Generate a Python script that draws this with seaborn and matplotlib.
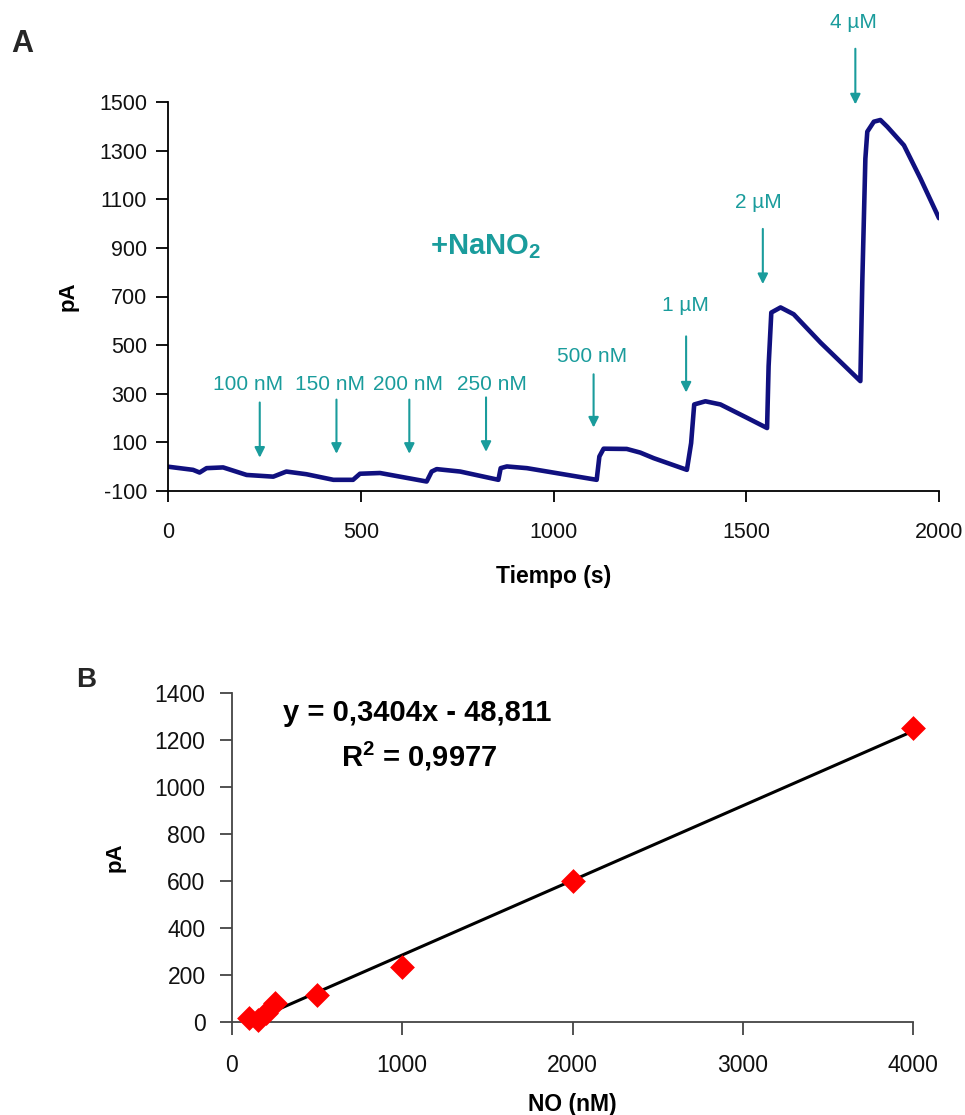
import numpy as np
import pandas as pd
import matplotlib
matplotlib.use("Agg")
import matplotlib.pyplot as plt
import seaborn as sns

# ---------------- data: panel A (amperometric trace) ----------------
time_s = [0, 65, 82, 100, 143, 204, 273, 307, 359, 429, 480, 498, 550, 671, 684,
          697, 758, 857, 863, 879, 931, 1112, 1119, 1130, 1190, 1225, 1260, 1346,
          1357, 1365, 1394, 1433, 1502, 1554, 1558, 1565, 1589, 1623, 1693, 1796,
          1801, 1809, 1814, 1831, 1848, 1866, 1909, 1952, 2000]
current_pA = [0, -13, -24, -6, -3, -34, -41, -20, -31, -54, -54, -29, -26, -61, -20,
              -10, -20, -54, -6, 1, -6, -54, 42, 74, 73, 58, 35, -13,
              97, 256, 269, 256, 201, 159, 414, 634, 655, 627, 510, 352,
              758, 1267, 1378, 1419, 1426, 1398, 1322, 1185, 1022]

# additions (arrows + labels)
add_labels = ["100 nM", "150 nM", "200 nM", "250 nM", "500 nM", "1 µM", "2 µM", "4 µM"]
add_time = [238, 437, 626, 825, 1104, 1344, 1543, 1783]
arrow_top = [264, 276, 276, 285, 380, 536, 978, 1719]
arrow_tip = [37, 53, 53, 61, 161, 305, 751, 1490]
label_time = [208, 420, 623, 840, 1100, 1342, 1532, 1779]
label_val = [338, 338, 338, 338, 455, 662, 1086, 1825]

# ---------------- data: panel B (calibration) ----------------
no_nM = [100, 150, 200, 250, 500, 1000, 2000, 4000]
pA_B = [17, 10, 38, 80, 116, 232, 600, 1251]
eq_text = "y = 0,3404x - 48,811"
r2_text = r"R$^\mathbf{2}$ = 0,9977"

yticks_A = list(range(-100, 1501, 200))
xticks_A = [0, 500, 1000, 1500, 2000]
yticks_B = list(range(0, 1401, 200))
xticks_B = [0, 1000, 2000, 3000, 4000]

# ---------------- style ----------------
sns.set_style("ticks")
plt.rcParams['font.family'] = ['Liberation Sans', 'DejaVu Sans']
plt.rcParams['mathtext.fontset'] = 'custom'
plt.rcParams['mathtext.rm'] = 'Liberation Sans'
plt.rcParams['mathtext.bf'] = 'Liberation Sans:bold'

navy = "#10107f"
teal = "#1a9c9c"
W, H = 965, 1115

fig = plt.figure(figsize=(W / 100, H / 100), dpi=100)
fig.patch.set_facecolor("white")

# ---------------- Panel A ----------------
axA = fig.add_axes([168 / W, 1 - 491 / H, (939 - 168) / W, (491 - 102) / H])
dfA = pd.DataFrame({"t": time_s, "pA": current_pA})
sns.lineplot(data=dfA, x="t", y="pA", ax=axA, color=navy, lw=3.3,
             estimator=None, sort=False)
axA.set_xlim(0, 2000)
axA.set_ylim(-100, 1500)
axA.set_xticks(xticks_A)
axA.set_yticks(yticks_A)
axA.set_xticklabels([str(v) for v in xticks_A])
axA.set_yticklabels([str(v) for v in yticks_A])
for s in ["top", "right"]:
    axA.spines[s].set_visible(False)
for s in ["left", "bottom"]:
    axA.spines[s].set_color("black")
    axA.spines[s].set_linewidth(1.3)
axA.tick_params(axis="y", direction="out", length=9, width=1.3, pad=6,
                labelsize=15.5, colors="black", labelcolor="#111111")
axA.tick_params(axis="x", direction="out", length=8, width=1.3, pad=14,
                labelsize=15.5, colors="black", labelcolor="#111111")
axA.set_xlabel("Tiempo (s)", fontsize=16.5, fontweight="bold", color="black")
axA.set_ylabel("pA", fontsize=16, fontweight="bold", color="black")
axA.xaxis.label.set_va("center")
axA.xaxis.set_label_coords(0.5, (491 - 576) / 389)
axA.yaxis.label.set_va("center")
axA.yaxis.set_label_coords((68 - 168) / 771, 0.5)

for lab, t, top, tip, lt, lv in zip(add_labels, add_time, arrow_top, arrow_tip,
                                     label_time, label_val):
    axA.annotate("", xy=(t, tip), xytext=(t, top),
                 arrowprops=dict(arrowstyle="-|>", color=teal, lw=1.5,
                                 mutation_scale=15, shrinkA=0, shrinkB=0))
    axA.text(lt, lv, lab, color=teal, fontsize=15, ha="center", va="center",
             clip_on=False)

axA.text(680, 875, r"+NaNO$_\mathbf{2}$", color=teal, fontsize=21,
         fontweight="bold", ha="left", va="baseline")

# ---------------- Panel B ----------------
axB = fig.add_axes([232 / W, 1 - 1022 / H, (913 - 232) / W, (1022 - 693) / H])
dfB = pd.DataFrame({"NO": no_nM, "pA": pA_B})
sns.regplot(data=dfB, x="NO", y="pA", ax=axB, ci=None, scatter=False,
            truncate=True, line_kws=dict(color="black", lw=2.2, zorder=2))
sns.scatterplot(data=dfB, x="NO", y="pA", ax=axB, marker="D", s=160,
                color="#ff0000", edgecolor="#ff0000", linewidth=0, zorder=3,
                clip_on=False)
axB.set_xlim(0, 4000)
axB.set_ylim(0, 1400)
axB.set_xticks(xticks_B)
axB.set_yticks(yticks_B)
axB.set_xticklabels([str(v) for v in xticks_B])
axB.set_yticklabels([str(v) for v in yticks_B])
for s in ["top", "right"]:
    axB.spines[s].set_visible(False)
for s in ["left", "bottom"]:
    axB.spines[s].set_color("#444444")
    axB.spines[s].set_linewidth(1.3)
axB.tick_params(axis="y", direction="out", length=9, width=1.3, pad=10,
                labelsize=16.5, colors="#444444", labelcolor="#111111")
axB.tick_params(axis="x", direction="out", length=9, width=1.3, pad=14,
                labelsize=16.5, colors="#444444", labelcolor="#111111")
axB.set_xlabel("NO (nM)", fontsize=16.5, fontweight="bold", color="black")
axB.set_ylabel("pA", fontsize=16, fontweight="bold", color="black")
axB.xaxis.label.set_va("center")
axB.xaxis.set_label_coords(0.5, (1022 - 1104) / 329)
axB.yaxis.label.set_va("center")
axB.yaxis.set_label_coords((115 - 232) / 681, 0.5)

axB.text(1085, 1316, eq_text, fontsize=21, fontweight="bold", ha="center",
         va="center", color="black")
axB.text(1097, 1129, r2_text, fontsize=21, fontweight="bold", ha="center",
         va="center", color="black")

# panel letters
fig.text(22.5 / W, 1 - 44 / H, "A", fontsize=22, fontweight="bold",
         ha="center", va="center")
fig.text(86 / W, 1 - 680 / H, "B", fontsize=20, fontweight="bold",
         ha="center", va="center")

fig.savefig("out.png", dpi=100, facecolor="white")
